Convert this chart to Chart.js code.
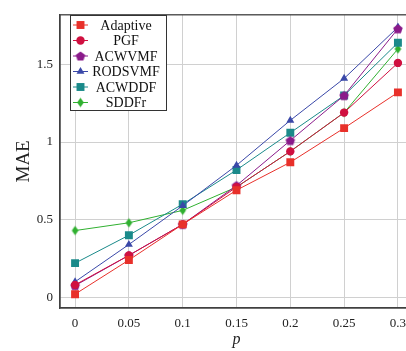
<!DOCTYPE html>
<html><head><meta charset="utf-8">
<script src="https://cdn.jsdelivr.net/npm/chart.js@4"></script>
<style>html,body{margin:0;padding:0;overflow:hidden;background:#fff;width:406px;height:351px}canvas{display:block}</style>
</head><body>
<canvas id="c" width="420" height="351"></canvas>
<script>
const pValues = [0, 0.05, 0.1, 0.15, 0.2, 0.25, 0.3];
const xTicks = [0, 0.05, 0.1, 0.15, 0.2, 0.25, 0.3];
const yTicks = [0, 0.5, 1, 1.5];
const seriesNames = ['Adaptive', 'PGF', 'ACWVMF', 'RODSVMF', 'ACWDDF', 'SDDFr'];
const adaptive = [0.02, 0.24, 0.47, 0.69, 0.87, 1.09, 1.32];
const pgf      = [0.08, 0.27, 0.47, 0.71, 0.94, 1.19, 1.51];
const acwvmf   = [0.075, 0.27, 0.47, 0.72, 1.01, 1.30, 1.73];
const rodsvmf  = [0.10, 0.34, 0.59, 0.85, 1.14, 1.41, 1.74];
const acwddf   = [0.22, 0.40, 0.60, 0.82, 1.06, 1.30, 1.64];
const sddfr    = [0.43, 0.48, 0.56, 0.71, 0.94, 1.19, 1.60];

function pentagon(r, color) {
  const c = document.createElement('canvas');
  const s = Math.ceil(2 * r + 2);
  c.width = s; c.height = s;
  const g = c.getContext('2d');
  g.fillStyle = color;
  g.beginPath();
  for (let i = 0; i < 5; i++) {
    const a = -Math.PI / 2 + i * 2 * Math.PI / 5;
    const px = s / 2 + r * Math.cos(a), py = s / 2 + r * Math.sin(a) + 0.5;
    i ? g.lineTo(px, py) : g.moveTo(px, py);
  }
  g.closePath(); g.fill();
  return c;
}
function diamond(hw, hh, color) {
  const c = document.createElement('canvas');
  c.width = Math.ceil(2 * hw + 2); c.height = Math.ceil(2 * hh + 2);
  const g = c.getContext('2d');
  const cx = c.width / 2, cy = c.height / 2;
  g.fillStyle = color;
  g.beginPath();
  g.moveTo(cx, cy - hh); g.lineTo(cx + hw, cy); g.lineTo(cx, cy + hh); g.lineTo(cx - hw, cy);
  g.closePath(); g.fill();
  return c;
}

const colors = ['#e8302a', '#d01040', '#8a1a8a', '#3a48a8', '#1a8a8a', '#30b030'];
const styles = [
  {pointStyle: 'rect', radius: 5.6},
  {pointStyle: 'circle', radius: 4.2},
  {pointStyle: pentagon(5, colors[2]), radius: 5},
  {pointStyle: 'triangle', radius: 4.6},
  {pointStyle: 'rect', radius: 5.6},
  {pointStyle: diamond(3.3, 4.8, colors[5]), radius: 5}
];
const series = [adaptive, pgf, acwvmf, rodsvmf, acwddf, sddfr];

const datasets = series.map((vals, i) => ({
  label: seriesNames[i],
  data: vals.map((v, j) => ({x: pValues[j], y: v})),
  borderColor: colors[i],
  backgroundColor: colors[i],
  pointBackgroundColor: colors[i],
  pointBorderColor: colors[i],
  pointBorderWidth: 0,
  pointStyle: styles[i].pointStyle,
  pointRadius: styles[i].radius,
  borderWidth: 1,
  tension: 0
}));

const serif = "'Liberation Serif', 'DejaVu Serif', serif";

const framePlugin = {
  id: 'frame',
  afterDatasetsDraw(chart) {
    const ctx = chart.ctx, a = chart.chartArea;
    ctx.save();
    ctx.strokeStyle = '#404040';
    ctx.lineWidth = 1.3;
    ctx.strokeRect(a.left, a.top, a.right - a.left, a.bottom - a.top);
    const lx = 70, ly = 15, lw = 96, lh = 95;
    ctx.fillStyle = '#fff';
    ctx.fillRect(lx, ly, lw, lh);
    ctx.strokeStyle = '#333';
    ctx.lineWidth = 1;
    ctx.strokeRect(lx + 0.5, ly + 0.5, lw, lh);
    ctx.font = '14px ' + serif;
    ctx.textAlign = 'center';
    ctx.textBaseline = 'middle';
    chart.data.datasets.forEach((ds, i) => {
      const y = ly + 10 + i * 15.5;
      ctx.strokeStyle = ds.borderColor;
      ctx.lineWidth = 1;
      ctx.beginPath(); ctx.moveTo(lx + 3, y); ctx.lineTo(lx + 18, y); ctx.stroke();
      ctx.fillStyle = ds.borderColor;
      Chart.helpers.drawPoint(ctx, {pointStyle: ds.pointStyle, radius: ds.pointRadius, borderWidth: 0, rotation: 0}, lx + 10.5, y);
      ctx.fillStyle = '#111';
      ctx.fillText(ds.label, lx + 56, y + 1);
    });
    ctx.restore();
  }
};

new Chart(document.getElementById('c'), {
  type: 'line',
  data: {datasets},
  options: {
    responsive: false,
    animation: false,
    layout: {padding: {top: 7, right: 7, left: 0, bottom: 0}},
    plugins: {legend: {display: false}, tooltip: {enabled: false}},
    scales: {
      x: {
        type: 'linear', min: -0.014, max: 0.314,
        afterBuildTicks: s => { s.ticks = xTicks.map(v => ({value: v})); },
        afterFit: s => { s.height = 43; },
        grid: {color: '#d0d0d0', lineWidth: 1, drawTicks: false},
        border: {color: '#404040', width: 1.3},
        ticks: {padding: 8, color: '#222', font: {family: serif, size: 13}, maxRotation: 0,
          callback: v => String(v)},
        title: {display: true, text: 'p', color: '#222', font: {family: serif, size: 16, style: 'italic'}, padding: {top: 0, bottom: 2}}
      },
      y: {
        type: 'linear', min: -0.069, max: 1.82,
        afterBuildTicks: s => { s.ticks = yTicks.map(v => ({value: v})); },
        afterFit: s => { s.width = 60; },
        grid: {color: '#d0d0d0', lineWidth: 1, drawTicks: false},
        border: {color: '#404040', width: 1.3},
        ticks: {padding: 7, color: '#222', font: {family: serif, size: 13}, callback: v => String(v)},
        title: {display: true, text: 'MAE', color: '#222', font: {family: serif, size: 19}, padding: {top: 13, bottom: 0}}
      }
    }
  },
  plugins: [framePlugin]
});
</script>
</body></html>
